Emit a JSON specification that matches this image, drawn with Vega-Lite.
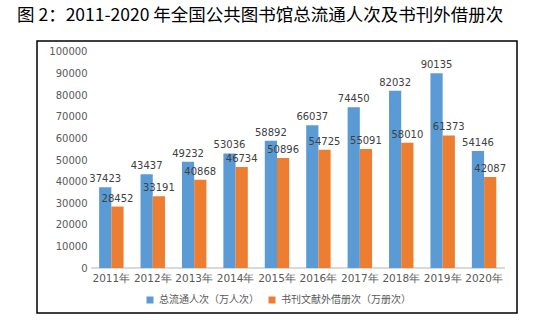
{
  "$schema": "https://vega.github.io/schema/vega-lite/v6.json",
  "width": 480,
  "height": 272,
  "autosize": {"type": "none"},
  "padding": {"left": 37, "top": 41, "right": 43, "bottom": 10},
  "background": "white",
  "title": {
    "text": "图 2：2011-2020 年全国公共图书馆总流通人次及书刊外借册次",
    "anchor": "start",
    "frame": "group",
    "dx": -20,
    "offset": 17,
    "font": "Noto Sans CJK SC",
    "fontSize": 17.5,
    "fontWeight": "normal",
    "color": "#000000"
  },
  "config": {
    "view": {"stroke": "#000000", "strokeWidth": 1.5},
    "text": {"font": "DejaVu Sans"}
  },
  "data": {
    "values": [
      {"year": "2011年", "series": "总流通人次（万人次）", "value": 37423},
      {"year": "2011年", "series": "书刊文献外借册次（万册次）", "value": 28452},
      {"year": "2012年", "series": "总流通人次（万人次）", "value": 43437},
      {"year": "2012年", "series": "书刊文献外借册次（万册次）", "value": 33191},
      {"year": "2013年", "series": "总流通人次（万人次）", "value": 49232},
      {"year": "2013年", "series": "书刊文献外借册次（万册次）", "value": 40868},
      {"year": "2014年", "series": "总流通人次（万人次）", "value": 53036},
      {"year": "2014年", "series": "书刊文献外借册次（万册次）", "value": 46734},
      {"year": "2015年", "series": "总流通人次（万人次）", "value": 58892},
      {"year": "2015年", "series": "书刊文献外借册次（万册次）", "value": 50896},
      {"year": "2016年", "series": "总流通人次（万人次）", "value": 66037},
      {"year": "2016年", "series": "书刊文献外借册次（万册次）", "value": 54725},
      {"year": "2017年", "series": "总流通人次（万人次）", "value": 74450},
      {"year": "2017年", "series": "书刊文献外借册次（万册次）", "value": 55091},
      {"year": "2018年", "series": "总流通人次（万人次）", "value": 82032},
      {"year": "2018年", "series": "书刊文献外借册次（万册次）", "value": 58010},
      {"year": "2019年", "series": "总流通人次（万人次）", "value": 90135},
      {"year": "2019年", "series": "书刊文献外借册次（万册次）", "value": 61373},
      {"year": "2020年", "series": "总流通人次（万人次）", "value": 54146},
      {"year": "2020年", "series": "书刊文献外借册次（万册次）", "value": 42087}
    ]
  },
  "encoding": {
    "x": {
      "field": "year",
      "type": "nominal",
      "sort": null,
      "scale": {
        "domain": ["2011年", "2012年", "2013年", "2014年", "2015年", "2016年", "2017年", "2018年", "2019年", "2020年"],
        "paddingInner": 0.41, "paddingOuter": 1.06, "align": 0.75
      },
      "axis": {
        "title": null,
        "orient": "bottom",
        "offset": -45,
        "domain": false,
        "ticks": false,
        "labelAngle": 0,
        "labelPadding": 5,
        "labelFont": "DejaVu Sans",
        "labelFontSize": 10.5,
        "labelColor": "#595959"
      }
    },
    "xOffset": {
      "field": "series",
      "type": "nominal",
      "sort": ["总流通人次（万人次）", "书刊文献外借册次（万册次）"],
      "scale": {"paddingInner": 0, "paddingOuter": 0}
    },
    "y": {
      "field": "value",
      "type": "quantitative",
      "scale": {"domain": [-20830, 105090], "nice": false, "zero": false},
      "axis": {
        "title": null,
        "values": [0, 10000, 20000, 30000, 40000, 50000, 60000, 70000, 80000, 90000, 100000],
        "format": "d",
        "offset": -52,
        "domain": false,
        "ticks": false,
        "grid": false,
        "labelPadding": 2,
        "labelFont": "DejaVu Sans",
        "labelFontSize": 10,
        "labelColor": "#595959"
      }
    }
  },
  "layer": [
    {
      "mark": {"type": "rule", "color": "#D9D9D9", "strokeWidth": 1.5},
      "encoding": {
        "x": {"datum": "2011年", "bandPosition": -0.33},
        "x2": {"datum": "2020年", "bandPosition": 1.33},
        "y": {"datum": 0},
        "xOffset": null
      }
    },
    {
      "mark": {"type": "bar"},
      "encoding": {
        "y2": {"datum": 0},
        "color": {
          "field": "series",
          "type": "nominal",
          "sort": ["总流通人次（万人次）", "书刊文献外借册次（万册次）"],
          "scale": {"range": ["#5B9BD5", "#ED7D31"]},
          "legend": {
            "title": null,
            "orient": "none",
            "legendX": 108,
            "legendY": 254,
            "direction": "horizontal",
            "symbolType": "square",
            "symbolSize": 49,
            "symbolStrokeWidth": 0,
            "labelFont": "Noto Sans CJK SC",
            "labelFontSize": 10,
            "labelColor": "#595959",
            "columnPadding": 8
          }
        }
      }
    },
    {
      "mark": {"type": "text", "baseline": "alphabetic", "dy": -5, "fontSize": 10, "color": "#404040"},
      "encoding": {
        "text": {"field": "value", "type": "quantitative", "format": "d"}
      }
    }
  ]
}
